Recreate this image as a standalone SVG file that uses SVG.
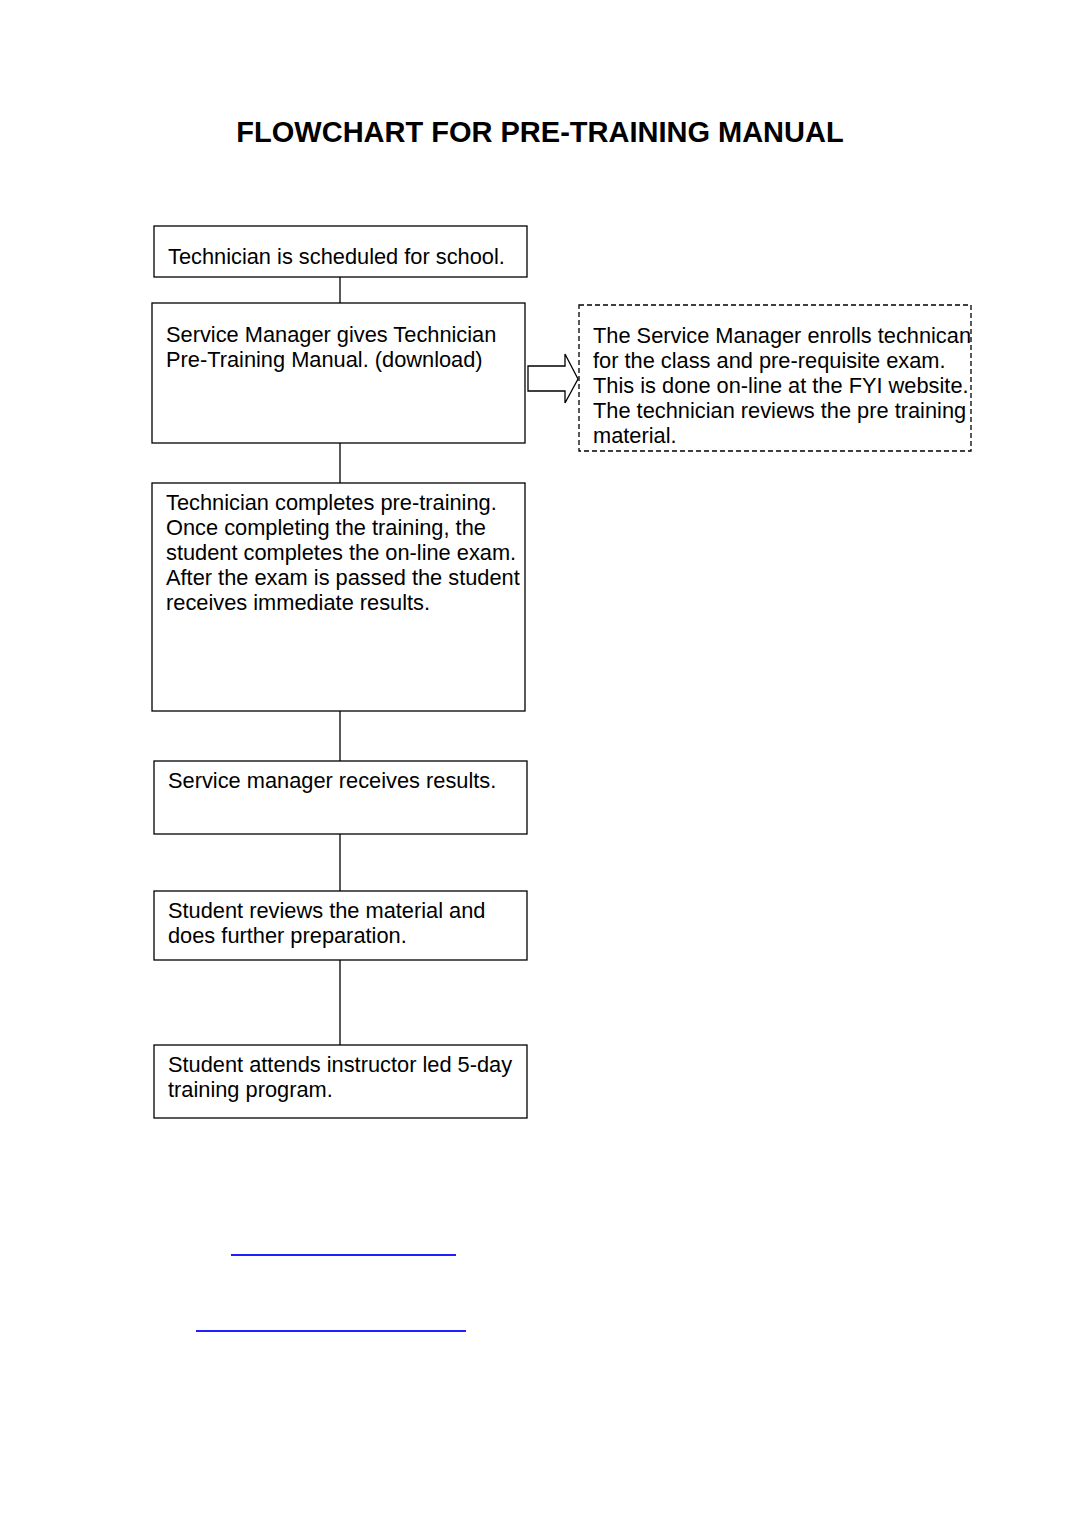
<svg xmlns="http://www.w3.org/2000/svg" width="1080" height="1528" viewBox="0 0 1080 1528">
<style>
.box{fill:#fff;stroke:#000;stroke-width:1.3}
.dash{fill:#fff;stroke:#000;stroke-width:1.3;stroke-dasharray:5 3}
.t{font-family:"Liberation Sans",Arial,sans-serif;font-size:21.8px;fill:#000}
.title{font-family:"Liberation Sans",Arial,sans-serif;font-size:29px;font-weight:bold;fill:#000}
.conn{stroke:#000;stroke-width:1.3;fill:none}
.link{stroke:#2020ff;stroke-width:2}
</style>
<rect width="1080" height="1528" fill="#fff"/>
<text class="title" x="540" y="142" text-anchor="middle">FLOWCHART FOR PRE-TRAINING MANUAL</text>
<g id="connectors">
<line class="conn" x1="340" y1="277" x2="340" y2="303"/>
<line class="conn" x1="340" y1="443" x2="340" y2="483"/>
<line class="conn" x1="340" y1="711" x2="340" y2="761"/>
<line class="conn" x1="340" y1="834" x2="340" y2="891"/>
<line class="conn" x1="340" y1="960" x2="340" y2="1045"/>
<path class="conn" d="M528,366 L565,366 L565,354 L578,379 L565,403 L565,391 L528,391 Z"/>
</g>
<g id="n1">
<rect class="box" x="154" y="226" width="373" height="51"/>
<text class="t" x="168" y="264">Technician is scheduled for school.</text>
</g>
<g id="n2">
<rect class="box" x="152" y="303" width="373" height="140"/>
<text class="t" x="166" y="342">Service Manager gives Technician</text>
<text class="t" x="166" y="367">Pre-Training Manual. (download)</text>
</g>
<g id="n3">
<rect class="dash" x="579" y="305" width="392" height="146"/>
<text class="t" x="593" y="343">The Service Manager enrolls technican</text>
<text class="t" x="593" y="368">for the class and pre-requisite exam.</text>
<text class="t" x="593" y="393">This is done on-line at the FYI website.</text>
<text class="t" x="593" y="418">The technician reviews the pre training</text>
<text class="t" x="593" y="443">material.</text>
</g>
<g id="n4">
<rect class="box" x="152" y="483" width="373" height="228"/>
<text class="t" x="166" y="510">Technician completes pre-training.</text>
<text class="t" x="166" y="535">Once completing the training, the</text>
<text class="t" x="166" y="560">student completes the on-line exam.</text>
<text class="t" x="166" y="585">After the exam is passed the student</text>
<text class="t" x="166" y="610">receives immediate results.</text>
</g>
<g id="n5">
<rect class="box" x="154" y="761" width="373" height="73"/>
<text class="t" x="168" y="788">Service manager receives results.</text>
</g>
<g id="n6">
<rect class="box" x="154" y="891" width="373" height="69"/>
<text class="t" x="168" y="918">Student reviews the material and</text>
<text class="t" x="168" y="943">does further preparation.</text>
</g>
<g id="n7">
<rect class="box" x="154" y="1045" width="373" height="73"/>
<text class="t" x="168" y="1072">Student attends instructor led 5-day</text>
<text class="t" x="168" y="1097">training program.</text>
</g>
<line class="link" x1="231" y1="1255" x2="456" y2="1255"/>
<line class="link" x1="196" y1="1331" x2="466" y2="1331"/>
</svg>
